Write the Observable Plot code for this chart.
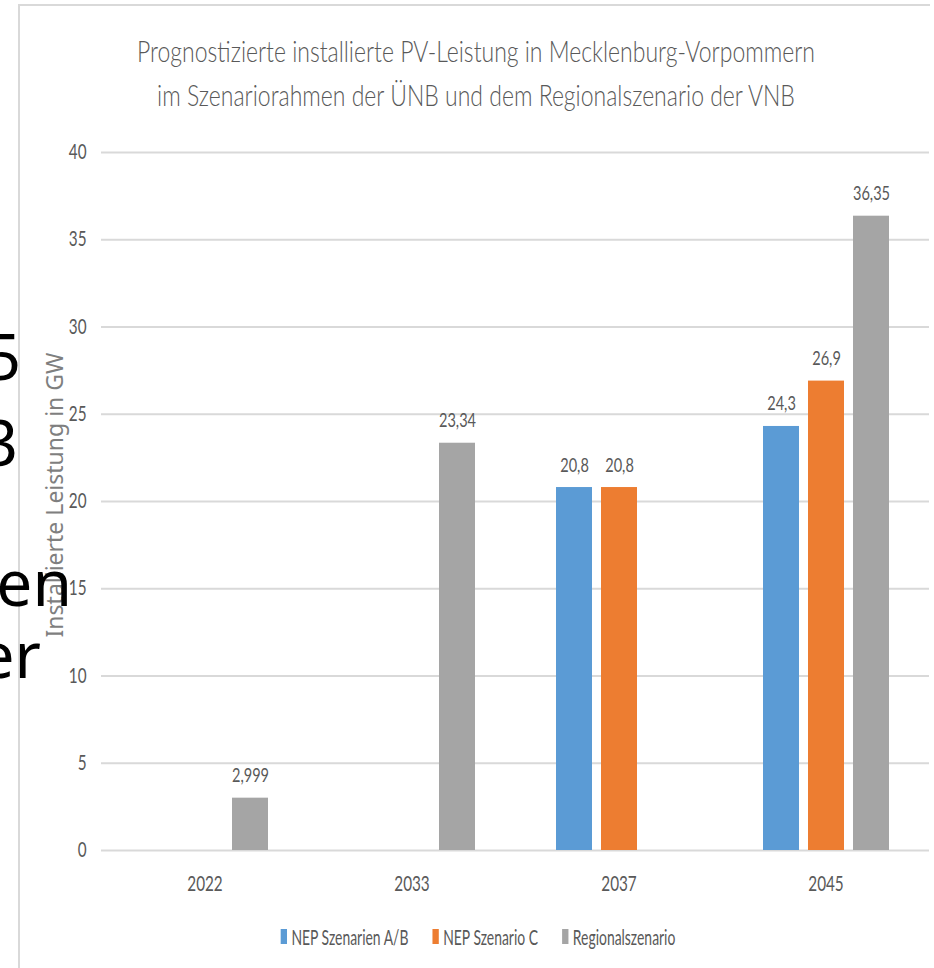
<!DOCTYPE html>
<html>
<head>
<meta charset="utf-8">
<script src="https://cdn.jsdelivr.net/npm/d3@7"></script>
<script src="https://cdn.jsdelivr.net/npm/@observablehq/plot@0.6"></script>
<style>
  html, body { margin: 0; padding: 0; background: #fff; }
  #wrap { position: relative; width: 934px; height: 968px; overflow: hidden; background: #fff; }
  .hline { position: absolute; left: 18px; top: 4px; width: 912px; height: 2px; background: #d9d9d9; }
  .vline { position: absolute; left: 18px; top: 4px; width: 2px; height: 964px; background: #d9d9d9; }
  #title { position: absolute; left: 18px; top: 28px; width: 916px; text-align: center;
           font-family: Lato, sans-serif; font-weight: 300; font-size: 30px; line-height: 44px; color: #595959;
           transform-origin: 458px 0; white-space: nowrap; }
  #chart { position: absolute; left: 0; top: 120px; }
  #ytitle { position: absolute; left: -146px; top: 480px; width: 400px; height: 30px; line-height: 30px;
            text-align: center; font-family: "Noto Sans", sans-serif; font-size: 23px; color: #7f7f7f;
            transform: rotate(-90deg); transform-origin: 200px 15px; white-space: nowrap; }
  #legend { position: absolute; left: 21px; top: 921px; width: 914px; height: 30px; display: flex;
            justify-content: center; align-items: center; font-family: Lato, sans-serif; font-size: 22px;
            color: #595959; transform-origin: 457px 15px; white-space: nowrap; }
  .item { display: flex; align-items: center; margin: 0 19px; }
  .sw { width: 10px; height: 15px; margin-right: 7px; }
  #overlay { position: absolute; left: 0; top: 0; pointer-events: none; }
</style>
</head>
<body>
<div id="wrap">
  <div class="hline"></div>
  <div class="vline"></div>
  <div id="title"><span id="t1">Prognostizierte installierte PV-Leistung in Mecklenburg-Vorpommern</span><br><span id="t2">im Szenariorahmen der ÜNB und dem Regionalszenario der VNB</span></div>
  <div id="chart"></div>
  <div id="ytitle">Installierte Leistung in GW</div>
  <div id="legend"></div>
  <svg id="overlay" width="934" height="968" font-family="'Noto Sans', sans-serif" font-size="64" fill="#000" text-anchor="end">
    <text x="21" y="380">5</text>
    <text x="18" y="466">3</text>
    <text x="72" y="606">en</text>
    <text x="41" y="678">er</text>
  </svg>
</div>
<script>
// ---- data ----
const years = ["2022", "2033", "2037", "2045"];
const series = ["NEP Szenarien A/B", "NEP Szenario C", "Regionalszenario"];
const nepAB = [null, null, 20.8, 24.3];
const nepC = [null, null, 20.8, 26.9];
const regional = [2.999, 23.34, null, 36.35];
const colors = ["#5B9BD5", "#ED7D31", "#A5A5A5"];
const yTicks = [0, 5, 10, 15, 20, 25, 30, 35, 40];

const valuesBySeries = [nepAB, nepC, regional];
const data = [];
years.forEach((yr, i) => {
  series.forEach((s, j) => {
    const v = valuesBySeries[j][i];
    if (v != null) data.push({year: yr, series: s, value: v});
  });
});
const fmt = v => String(v).replace(".", ",");

// ---- squash factor (condensed look of the original) ----
const t1 = document.getElementById("t1");
const k = 678 / t1.getBoundingClientRect().width;
document.getElementById("title").style.transform = `scaleX(${k})`;

// ---- chart ----
const chart = Plot.plot({
  width: 934,
  height: 780,
  marginTop: 32,
  marginBottom: 50,
  marginLeft: 100,
  marginRight: 5,
  style: {fontFamily: "Lato, sans-serif", fontSize: "21px", color: "#595959", background: "transparent", overflow: "visible"},
  fx: {domain: years, padding: 0, label: null},
  x: {domain: series, paddingInner: 0.21, paddingOuter: 0.88, axis: null},
  y: {domain: [0, 40]},
  color: {domain: series, range: colors},
  marks: [
    Plot.gridY(yTicks, {stroke: "#d9d9d9", strokeOpacity: 1, strokeWidth: 2}),
    Plot.axisY(yTicks, {tickSize: 0, tickPadding: 15, label: null, fill: "#595959"}),
    Plot.axisFx({anchor: "bottom", tickSize: 0, tickPadding: 26, label: null, fill: "#595959"}),
    Plot.barY(data, {fx: "year", x: "series", y: "value", fill: "series"}),
    Plot.text(data, {fx: "year", x: "series", y: "value", text: d => fmt(d.value),
                     lineAnchor: "bottom", dy: -16, fill: "#595959", fontSize: 20})
  ]
});
document.getElementById("chart").appendChild(chart);

// squash svg texts
const kt = k * 0.95;
chart.querySelectorAll("text").forEach(t => {
  const L = t.getComputedTextLength();
  if (L > 0) {
    t.setAttribute("textLength", (L * kt).toFixed(2));
    t.setAttribute("lengthAdjust", "spacingAndGlyphs");
  }
});

// ---- legend ----
const legend = document.getElementById("legend");
let firstLabel = null;
series.forEach((s, i) => {
  const item = document.createElement("div");
  item.className = "item";
  const sw = document.createElement("div");
  sw.className = "sw";
  sw.style.background = colors[i];
  const lab = document.createElement("span");
  lab.textContent = s;
  if (!firstLabel) firstLabel = lab;
  item.appendChild(sw);
  item.appendChild(lab);
  legend.appendChild(item);
});
const kl = 117 / firstLabel.getBoundingClientRect().width;
legend.style.transform = `scaleX(${kl})`;
</script>
</body>
</html>
